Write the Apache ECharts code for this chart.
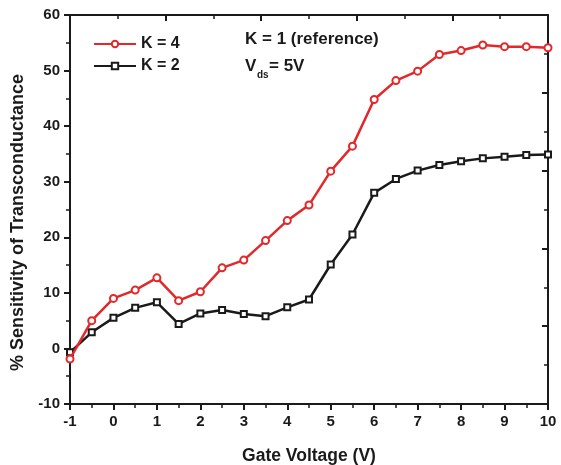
<!DOCTYPE html>
<html>
<head>
<meta charset="utf-8">
<script src="https://cdn.jsdelivr.net/npm/echarts@6/dist/echarts.min.js"></script>
<style>
  html, body { margin: 0; padding: 0; background: #fff; }
  #main { width: 561px; height: 465px; }
</style>
</head>
<body>
<div id="main"></div>
<script>
// gate voltage (V)
var gateVoltage = [-1, -0.5, 0, 0.5, 1, 1.5, 2, 2.5, 3, 3.5, 4, 4.5, 5, 5.5, 6, 6.5, 7, 7.5, 8, 8.5, 9, 9.5, 10];
// % sensitivity, K = 4
var k4 = [-1.9, 5.0, 9.0, 10.5, 12.7, 8.6, 10.2, 14.5, 15.9, 19.4, 23.0, 25.8, 31.9, 36.4, 44.8, 48.2, 49.9, 52.9, 53.6, 54.6, 54.3, 54.3, 54.1];
// % sensitivity, K = 2
var k2 = [-0.7, 2.9, 5.5, 7.3, 8.3, 4.4, 6.3, 6.9, 6.2, 5.8, 7.4, 8.8, 15.1, 20.5, 28.0, 30.5, 32.0, 33.0, 33.7, 34.2, 34.5, 34.8, 34.9];

var font = '"Liberation Sans", Arial, sans-serif';
var red = '#e2282a';
var dark = '#1a1a1a';

function pairs(ys) {
    return gateVoltage.map(function (x, i) { return [x, ys[i]]; });
}

var frameLine = { show: true, onZero: false, lineStyle: { color: dark, width: 2 } };
var minor = { show: true, splitNumber: 2, length: 4, lineStyle: { color: dark, width: 1.5 } };
var labelStyle = { fontFamily: font, fontWeight: 'bold', fontSize: 15, color: dark, margin: 10 };

var myChart = echarts.init(document.getElementById('main'));
myChart.setOption({
    animation: false,
    grid: { left: 70, right: 13, top: 15, bottom: 61, outerBoundsMode: 'none' },
    legend: {
        orient: 'vertical',
        left: 88, top: 31,
        itemWidth: 42, itemHeight: 8, itemGap: 6,
        textStyle: { fontFamily: font, fontWeight: 'bold', fontSize: 16, color: dark },
        data: ['K = 4', 'K = 2']
    },
    xAxis: [{
        type: 'value', min: -1, max: 10, interval: 1,
        name: 'Gate Voltage (V)', nameLocation: 'middle', nameGap: 43,
        nameTextStyle: { fontFamily: font, fontWeight: 'bold', fontSize: 17.5, color: dark },
        axisLine: frameLine,
        axisTick: { length: 6, lineStyle: { width: 2 } },
        minorTick: minor,
        axisLabel: labelStyle,
        splitLine: { show: false }
    }, {
        type: 'value', position: 'top', min: 0, max: 10, interval: 2,
        axisLine: frameLine,
        axisTick: { inside: true, length: 6, lineStyle: { width: 2 } },
        minorTick: minor,
        axisLabel: { show: false },
        splitLine: { show: false }
    }],
    yAxis: [{
        type: 'value', min: -10, max: 60, interval: 10,
        name: '% Sensitivity of Transconductance', nameLocation: 'middle', nameGap: 43,
        nameTextStyle: { fontFamily: font, fontWeight: 'bold', fontSize: 18, color: dark, padding: [0, 26, 0, 0] },
        axisLine: frameLine,
        axisTick: { show: true, length: 6, lineStyle: { width: 2 } },
        minorTick: minor,
        axisLabel: labelStyle,
        splitLine: { show: false }
    }, {
        type: 'value', position: 'right', min: 0, max: 10, interval: 2,
        axisLine: frameLine,
        axisTick: { show: true, inside: true, length: 6, lineStyle: { width: 2 } },
        minorTick: minor,
        axisLabel: { show: false },
        splitLine: { show: false }
    }],
    series: [{
        name: 'K = 4', type: 'line', data: pairs(k4),
        symbol: 'emptyCircle', symbolSize: 7,
        lineStyle: { color: red, width: 2.5 },
        itemStyle: { color: red, borderWidth: 1.5 },
        z: 3
    }, {
        name: 'K = 2', type: 'line', data: pairs(k2),
        symbol: 'emptyRect', symbolSize: 6,
        lineStyle: { color: dark, width: 2.5 },
        itemStyle: { color: dark, borderWidth: 1.5 },
        z: 2
    }],
    graphic: [
        { type: 'text', left: 245, top: 31, style: { text: 'K = 1 (reference)', font: 'bold 17px ' + font, fill: dark } },
        { type: 'text', left: 245, top: 58, style: { text: 'V', font: 'bold 17px ' + font, fill: dark } },
        { type: 'text', left: 257, top: 70, style: { text: 'ds', font: 'bold 10px ' + font, fill: dark } },
        { type: 'text', left: 269, top: 58, style: { text: '= 5V', font: 'bold 17px ' + font, fill: dark } }
    ]
});
</script>
</body>
</html>
